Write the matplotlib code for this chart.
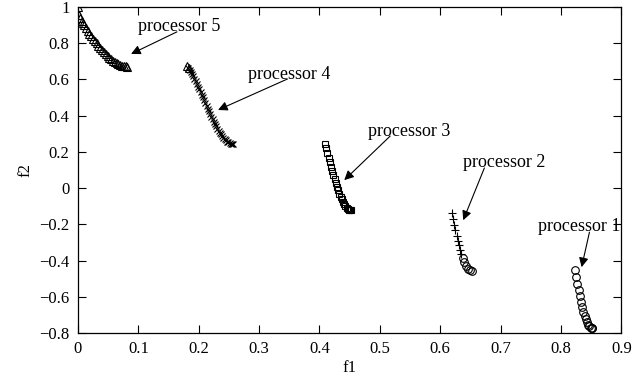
import matplotlib
matplotlib.use('Agg')
import matplotlib.pyplot as plt
from matplotlib.ticker import FuncFormatter, MultipleLocator

plt.rcParams['font.family'] = ['Liberation Serif', 'DejaVu Serif']

# processor 5 (triangles)
p5_f1 = [0.000, 0.002, 0.004, 0.006, 0.008, 0.010, 0.013, 0.016, 0.019, 0.022,
         0.025, 0.028, 0.031, 0.034, 0.037, 0.040, 0.043, 0.046, 0.049, 0.052,
         0.055, 0.058, 0.061, 0.064, 0.067, 0.070, 0.073, 0.076, 0.079, 0.082]
p5_f2 = [1.000, 0.955, 0.936, 0.921, 0.909, 0.897, 0.881, 0.866, 0.852, 0.838,
         0.824, 0.811, 0.798, 0.786, 0.774, 0.762, 0.751, 0.740, 0.730, 0.720,
         0.711, 0.703, 0.696, 0.689, 0.683, 0.679, 0.675, 0.672, 0.671, 0.670]

# processor 4 (a few triangles on top, then crosses)
p4_tri_f1 = [0.181, 0.184]
p4_tri_f2 = [0.676, 0.660]
p4_f1 = [0.183, 0.185, 0.187, 0.189, 0.191, 0.193, 0.195, 0.197, 0.199, 0.201,
         0.203, 0.205, 0.207, 0.209, 0.211, 0.213, 0.215, 0.217, 0.219, 0.221,
         0.223, 0.225, 0.227, 0.229, 0.231, 0.233, 0.235, 0.237, 0.239, 0.241,
         0.243, 0.245, 0.247, 0.249, 0.251, 0.253, 0.255, 0.257]
p4_f2 = [0.665, 0.654, 0.642, 0.629, 0.616, 0.603, 0.589, 0.575, 0.560, 0.545,
         0.530, 0.515, 0.500, 0.485, 0.469, 0.454, 0.439, 0.424, 0.409, 0.394,
         0.380, 0.367, 0.353, 0.341, 0.328, 0.317, 0.306, 0.296, 0.286, 0.278,
         0.270, 0.263, 0.257, 0.252, 0.248, 0.245, 0.243, 0.242]

# processor 3 (squares)
p3_f1 = [0.409, 0.411, 0.413, 0.415, 0.417, 0.419, 0.421, 0.423, 0.425, 0.427,
         0.429, 0.431, 0.433, 0.435, 0.437, 0.439, 0.441, 0.443, 0.445, 0.447,
         0.449, 0.451, 0.452]
p3_f2 = [0.246, 0.220, 0.193, 0.167, 0.142, 0.117, 0.093, 0.070, 0.048, 0.026,
         0.006, -0.013, -0.031, -0.047, -0.062, -0.076, -0.088, -0.098, -0.107, -0.114,
         -0.119, -0.122, -0.123]

# processor 2 (pluses, then circles)
p2_f1 = [0.619, 0.621, 0.623, 0.625, 0.627, 0.629, 0.631, 0.633, 0.635]
p2_f2 = [-0.135, -0.169, -0.201, -0.233, -0.262, -0.290, -0.316, -0.341, -0.363]
p2_circ_f1 = [0.637, 0.640, 0.643, 0.646, 0.649, 0.652]
p2_circ_f2 = [-0.383, -0.409, -0.430, -0.445, -0.454, -0.458]

# processor 1 (circles)
p1_f1 = [0.823, 0.825, 0.827, 0.829, 0.831, 0.833, 0.835, 0.837, 0.839, 0.841,
         0.843, 0.845, 0.847, 0.849, 0.851, 0.852]
p1_f2 = [-0.451, -0.491, -0.528, -0.563, -0.596, -0.628, -0.658, -0.685, -0.705, -0.724,
         -0.740, -0.754, -0.763, -0.769, -0.772, -0.773]

labels = ['processor 5', 'processor 4', 'processor 3', 'processor 2', 'processor 1']
label_pos = [(0.0995, 0.89), (0.282, 0.624), (0.481, 0.315), (0.637, 0.144), (0.762, -0.21)]
arrow_tail = [(0.164, 0.862), (0.347, 0.602), (0.517, 0.287), (0.673, 0.111), (0.847, -0.243)]
arrow_tip = [(0.088, 0.740), (0.232, 0.431), (0.441, 0.044), (0.638, -0.177), (0.834, -0.436)]

fig = plt.figure(figsize=(6.44, 3.79), dpi=100)
ax = fig.add_axes([0.121, 0.121, 0.844, 0.861])

mk = dict(linestyle='none', color='black', mfc='none', mew=0.8)
ax.plot(p5_f1, p5_f2, marker='^', markersize=6, **mk)
ax.plot(p4_tri_f1, p4_tri_f2, marker='^', markersize=6, **mk)
ax.plot(p4_f1, p4_f2, marker='x', markersize=5, **mk)
ax.plot(p3_f1, p3_f2, marker='s', markersize=4.5, **mk)
ax.plot(p2_f1, p2_f2, marker='+', markersize=6, **mk)
ax.plot(p2_circ_f1, p2_circ_f2, marker='o', markersize=5.5, **mk)
ax.plot(p1_f1, p1_f2, marker='o', markersize=5.5, **mk)

for lab, pos, tail, tip in zip(labels, label_pos, arrow_tail, arrow_tip):
    ax.text(pos[0], pos[1], lab, fontsize=13, ha='left', va='center')
    ax.annotate('', xy=tip, xytext=tail,
                arrowprops=dict(arrowstyle='-|>', color='black', lw=0.8,
                                mutation_scale=14, shrinkA=0, shrinkB=0))

ax.set_xlim(0, 0.9)
ax.set_ylim(-0.8, 1.0)
ax.xaxis.set_major_locator(MultipleLocator(0.1))
ax.yaxis.set_major_locator(MultipleLocator(0.2))
fmt = FuncFormatter(lambda v, p: ('%g' % round(v, 2)).replace('-', '\u2212'))
ax.xaxis.set_major_formatter(fmt)
ax.yaxis.set_major_formatter(fmt)
ax.tick_params(direction='in', length=6, width=0.8, top=True, right=True,
               labelsize=12, pad=6)
for s in ax.spines.values():
    s.set_linewidth(0.9)

ax.set_xlabel('f1', fontsize=12, labelpad=2)
ax.set_ylabel('f2', fontsize=12, labelpad=4)

fig.savefig('out.png', dpi=100)
